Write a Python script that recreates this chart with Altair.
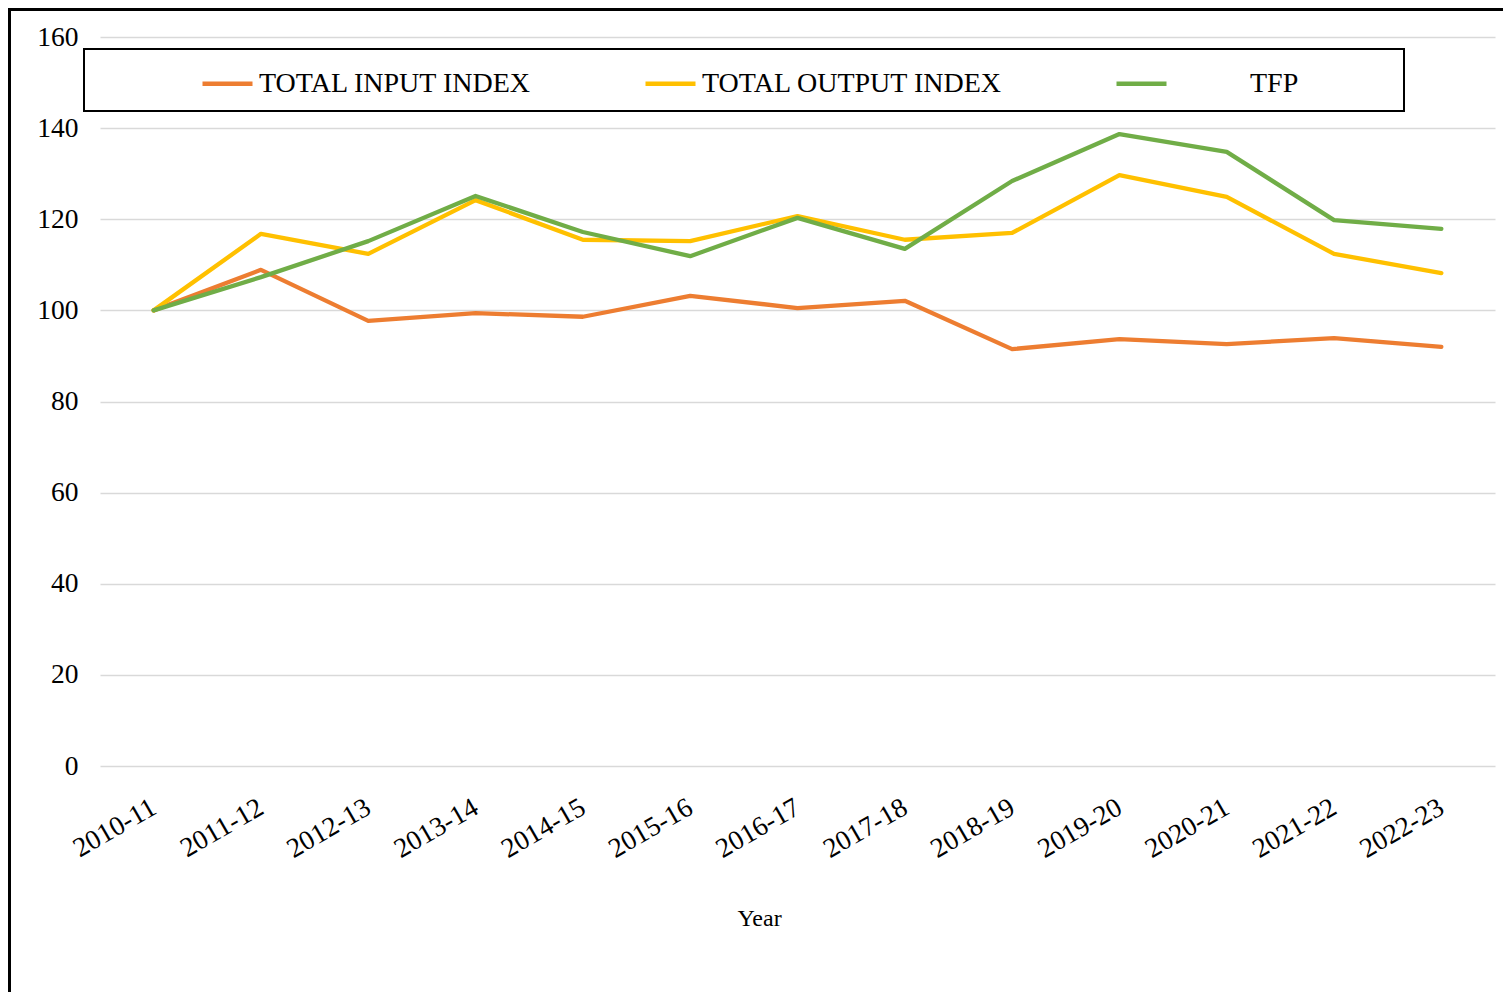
import altair as alt
import pandas as pd

years = ["2010-11", "2011-12", "2012-13", "2013-14", "2014-15", "2015-16", "2016-17",
         "2017-18", "2018-19", "2019-20", "2020-21", "2021-22", "2022-23"]
input_index = [100, 108.9, 97.7, 99.4, 98.6, 103.2, 100.5, 102.1, 91.5, 93.7, 92.6, 93.9, 92.0]
output_index = [100, 116.8, 112.4, 124.2, 115.5, 115.2, 120.7, 115.5, 117.0, 129.7, 124.9, 112.4, 108.2]
tfp = [100, 107.3, 115.2, 125.1, 117.2, 111.9, 120.3, 113.5, 128.4, 138.7, 134.8, 119.8, 117.9]
series_names = ["TOTAL INPUT INDEX", "TOTAL OUTPUT INDEX", "TFP"]
colors = ["#ED7D31", "#FFC000", "#70AD47"]
y_ticks = [0, 20, 40, 60, 80, 100, 120, 140, 160]

rows = []
for name, vals in zip(series_names, [input_index, output_index, tfp]):
    for yr, v in zip(years, vals):
        rows.append({"year": yr, "value": v, "series": name})
df = pd.DataFrame(rows)

FONT = "Liberation Serif"
W, H = 1395, 729
pad = "\u200b" + "\u00a0" * 11

lines = alt.Chart(df).mark_line(strokeWidth=4.3, strokeCap="round", strokeJoin="round").encode(
    x=alt.X("year:N", sort=years,
            scale=alt.Scale(type="point", padding=0.5),
            axis=alt.Axis(title="Year", labelAngle=-30, labelAlign="right", labelBaseline="top",
                          labelPadding=27, labelOffset=-7, labelFont=FONT, labelFontSize=27.5,
                          labelColor="black", domain=False, ticks=False, grid=False,
                          titleFont=FONT, titleFontSize=24, titleFontWeight="normal",
                          titleColor="black", titleX=659, titleY=152, titleBaseline="middle")),
    y=alt.Y("value:Q", scale=alt.Scale(domain=[0, 160], nice=False),
            axis=alt.Axis(title=None, values=y_ticks, labelFont=FONT, labelFontSize=27.5,
                          labelColor="black", labelPadding=22, domain=False, ticks=False,
                          grid=True, gridColor="#d9d9d9", gridWidth=1.5)),
    color=alt.Color("series:N", sort=series_names,
                    scale=alt.Scale(domain=series_names, range=colors),
                    legend=alt.Legend(title=None, orient="none", legendX=100, legendY=19,
                                      direction="horizontal", columns=3, columnPadding=104,
                                      symbolType="stroke", symbolSize=2500, symbolStrokeWidth=4.3,
                                      labelFont=FONT, labelFontSize=28, labelColor="black",
                                      labelOffset=4, labelLimit=0,
                                      labelExpr="datum.label == 'TFP' ? '" + pad + "TFP' : datum.label")),
)

one = pd.DataFrame({"a": [0]})
legend_box = alt.Chart(one).mark_rect(fill="white", stroke="black", strokeWidth=2).encode(
    x=alt.value(-16), x2=alt.value(1304), y=alt.value(12), y2=alt.value(74))
frame_top = alt.Chart(one).mark_rule(color="black", strokeWidth=5).encode(
    x=alt.value(-94), x2=alt.value(W + 20), y=alt.value(-28.5))
frame_left = alt.Chart(one).mark_rule(color="black", strokeWidth=5).encode(
    x=alt.value(-91.5), y=alt.value(-32), y2=alt.value(H + 260))

chart = alt.layer(legend_box, lines, frame_top, frame_left).properties(
    width=W, height=H,
    padding={"left": 92, "top": 29, "right": 8, "bottom": 226},
    autosize=alt.AutoSizeParams(type="none"),
    background="white",
).configure_view(stroke=None)

chart.save("out.html", embed_options={"renderer": "svg", "actions": False})
